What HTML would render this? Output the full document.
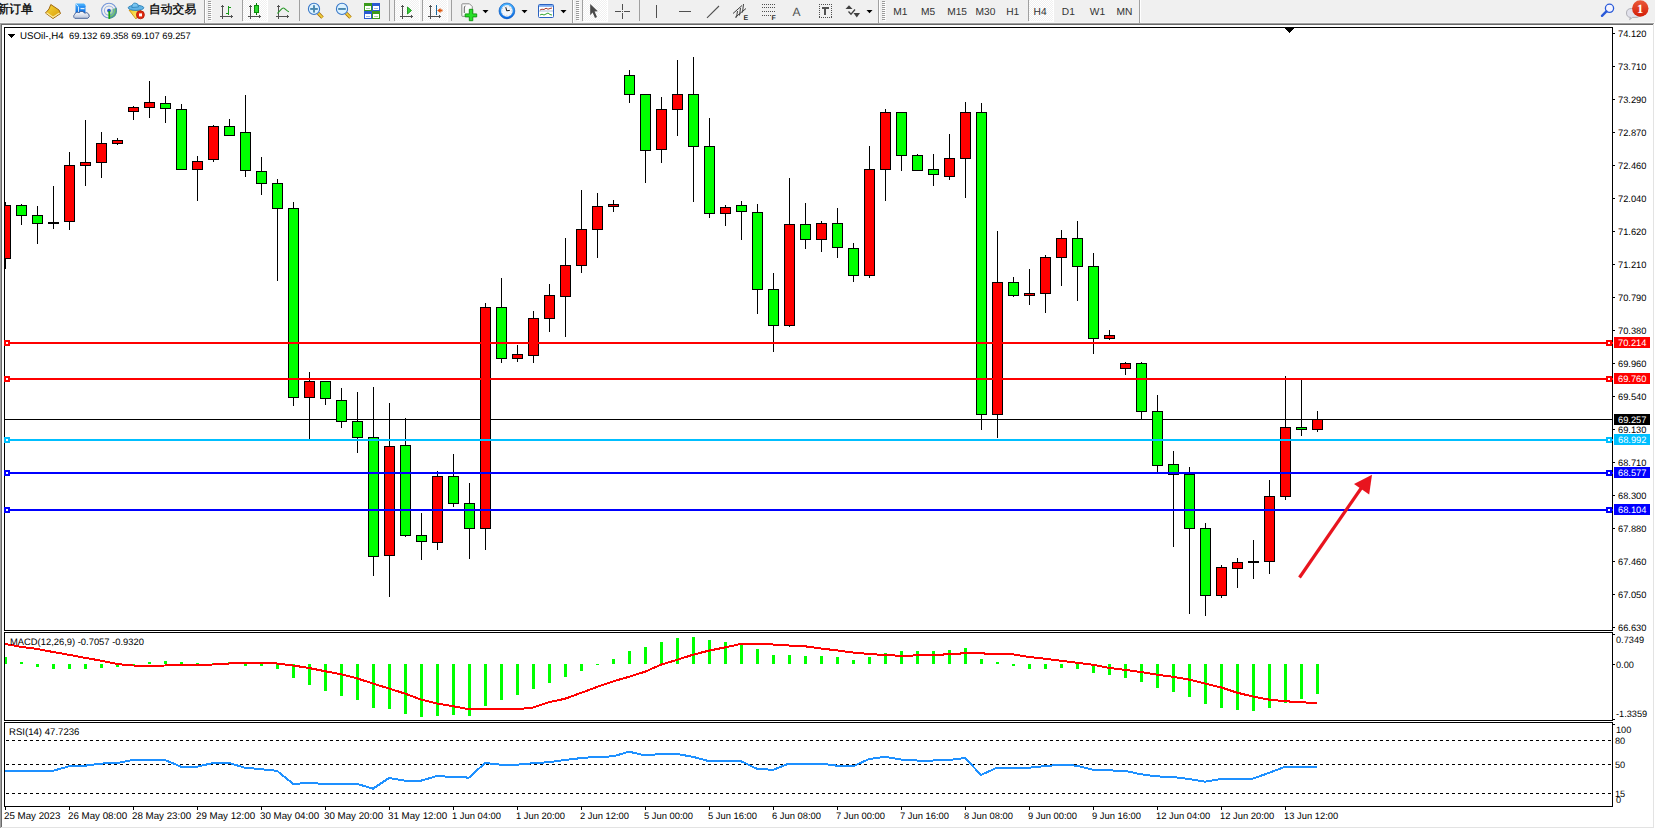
<!DOCTYPE html>
<html><head><meta charset="utf-8"><title>MT4</title>
<style>html,body{margin:0;padding:0;background:#f0f0f0}body{width:1655px;height:829px;overflow:hidden;position:relative}svg{position:absolute;left:0;top:0;font-family:"Liberation Sans",sans-serif}</style>
</head><body>
<svg width="1655" height="829" viewBox="0 0 1655 829" shape-rendering="crispEdges" text-rendering="geometricPrecision">
<rect x="0" y="0" width="1655" height="22" fill="#f0f0f0"/><rect x="0" y="22" width="1655" height="1" fill="#f7f7f7"/><rect x="204" y="0" width="1" height="23" fill="#a0a0a0"/><rect x="205" y="0" width="1" height="22" fill="#ffffff"/><rect x="572" y="0" width="1" height="23" fill="#a0a0a0"/><rect x="573" y="0" width="1" height="22" fill="#ffffff"/><rect x="878" y="0" width="1" height="23" fill="#a0a0a0"/><rect x="879" y="0" width="1" height="22" fill="#ffffff"/><rect x="1139" y="0" width="1" height="23" fill="#a0a0a0"/><rect x="1140" y="0" width="1" height="22" fill="#ffffff"/><rect x="208" y="1" width="3" height="1" fill="#9a9a9a"/><rect x="209" y="2" width="3" height="1" fill="#ffffff"/><rect x="208" y="3" width="3" height="1" fill="#9a9a9a"/><rect x="209" y="4" width="3" height="1" fill="#ffffff"/><rect x="208" y="5" width="3" height="1" fill="#9a9a9a"/><rect x="209" y="6" width="3" height="1" fill="#ffffff"/><rect x="208" y="7" width="3" height="1" fill="#9a9a9a"/><rect x="209" y="8" width="3" height="1" fill="#ffffff"/><rect x="208" y="9" width="3" height="1" fill="#9a9a9a"/><rect x="209" y="10" width="3" height="1" fill="#ffffff"/><rect x="208" y="11" width="3" height="1" fill="#9a9a9a"/><rect x="209" y="12" width="3" height="1" fill="#ffffff"/><rect x="208" y="13" width="3" height="1" fill="#9a9a9a"/><rect x="209" y="14" width="3" height="1" fill="#ffffff"/><rect x="208" y="15" width="3" height="1" fill="#9a9a9a"/><rect x="209" y="16" width="3" height="1" fill="#ffffff"/><rect x="208" y="17" width="3" height="1" fill="#9a9a9a"/><rect x="209" y="18" width="3" height="1" fill="#ffffff"/><rect x="208" y="19" width="3" height="1" fill="#9a9a9a"/><rect x="209" y="20" width="3" height="1" fill="#ffffff"/><rect x="576" y="1" width="3" height="1" fill="#9a9a9a"/><rect x="577" y="2" width="3" height="1" fill="#ffffff"/><rect x="576" y="3" width="3" height="1" fill="#9a9a9a"/><rect x="577" y="4" width="3" height="1" fill="#ffffff"/><rect x="576" y="5" width="3" height="1" fill="#9a9a9a"/><rect x="577" y="6" width="3" height="1" fill="#ffffff"/><rect x="576" y="7" width="3" height="1" fill="#9a9a9a"/><rect x="577" y="8" width="3" height="1" fill="#ffffff"/><rect x="576" y="9" width="3" height="1" fill="#9a9a9a"/><rect x="577" y="10" width="3" height="1" fill="#ffffff"/><rect x="576" y="11" width="3" height="1" fill="#9a9a9a"/><rect x="577" y="12" width="3" height="1" fill="#ffffff"/><rect x="576" y="13" width="3" height="1" fill="#9a9a9a"/><rect x="577" y="14" width="3" height="1" fill="#ffffff"/><rect x="576" y="15" width="3" height="1" fill="#9a9a9a"/><rect x="577" y="16" width="3" height="1" fill="#ffffff"/><rect x="576" y="17" width="3" height="1" fill="#9a9a9a"/><rect x="577" y="18" width="3" height="1" fill="#ffffff"/><rect x="576" y="19" width="3" height="1" fill="#9a9a9a"/><rect x="577" y="20" width="3" height="1" fill="#ffffff"/><rect x="882" y="1" width="3" height="1" fill="#9a9a9a"/><rect x="883" y="2" width="3" height="1" fill="#ffffff"/><rect x="882" y="3" width="3" height="1" fill="#9a9a9a"/><rect x="883" y="4" width="3" height="1" fill="#ffffff"/><rect x="882" y="5" width="3" height="1" fill="#9a9a9a"/><rect x="883" y="6" width="3" height="1" fill="#ffffff"/><rect x="882" y="7" width="3" height="1" fill="#9a9a9a"/><rect x="883" y="8" width="3" height="1" fill="#ffffff"/><rect x="882" y="9" width="3" height="1" fill="#9a9a9a"/><rect x="883" y="10" width="3" height="1" fill="#ffffff"/><rect x="882" y="11" width="3" height="1" fill="#9a9a9a"/><rect x="883" y="12" width="3" height="1" fill="#ffffff"/><rect x="882" y="13" width="3" height="1" fill="#9a9a9a"/><rect x="883" y="14" width="3" height="1" fill="#ffffff"/><rect x="882" y="15" width="3" height="1" fill="#9a9a9a"/><rect x="883" y="16" width="3" height="1" fill="#ffffff"/><rect x="882" y="17" width="3" height="1" fill="#9a9a9a"/><rect x="883" y="18" width="3" height="1" fill="#ffffff"/><rect x="882" y="19" width="3" height="1" fill="#9a9a9a"/><rect x="883" y="20" width="3" height="1" fill="#ffffff"/><defs><pattern id="dith" width="2" height="2" patternUnits="userSpaceOnUse"><rect width="2" height="2" fill="#f0f0f0"/><rect width="1" height="1" fill="#ffffff"/><rect x="1" y="1" width="1" height="1" fill="#ffffff"/></pattern></defs><rect x="243" y="0" width="24" height="21" fill="url(#dith)"/><rect x="267" y="0" width="1" height="22" fill="#ffffff"/><rect x="243" y="21" width="25" height="1" fill="#ffffff"/><rect x="395" y="0" width="24" height="21" fill="url(#dith)"/><rect x="419" y="0" width="1" height="22" fill="#ffffff"/><rect x="395" y="21" width="25" height="1" fill="#ffffff"/><rect x="423" y="0" width="24" height="21" fill="url(#dith)"/><rect x="447" y="0" width="1" height="22" fill="#ffffff"/><rect x="423" y="21" width="25" height="1" fill="#ffffff"/><rect x="583" y="0" width="24" height="21" fill="url(#dith)"/><rect x="607" y="0" width="1" height="22" fill="#ffffff"/><rect x="583" y="21" width="25" height="1" fill="#ffffff"/><rect x="1029" y="0" width="24" height="21" fill="url(#dith)"/><rect x="1053" y="0" width="1" height="22" fill="#ffffff"/><rect x="1029" y="21" width="25" height="1" fill="#ffffff"/><rect x="242" y="0" width="1" height="21" fill="#a0a0a0"/><rect x="299" y="0" width="1" height="21" fill="#a0a0a0"/><rect x="389" y="0" width="1" height="21" fill="#a0a0a0"/><rect x="394" y="0" width="1" height="21" fill="#a0a0a0"/><rect x="422" y="0" width="1" height="21" fill="#a0a0a0"/><rect x="451" y="0" width="1" height="21" fill="#a0a0a0"/><rect x="582" y="0" width="1" height="21" fill="#a0a0a0"/><rect x="639" y="0" width="1" height="21" fill="#a0a0a0"/><rect x="1028" y="0" width="1" height="21" fill="#a0a0a0"/><g shape-rendering="geometricPrecision"><defs>
<linearGradient id="gGold" x1="0" y1="0" x2="1" y2="1"><stop offset="0" stop-color="#f7d93a"/><stop offset="1" stop-color="#d89a08"/></linearGradient>
<linearGradient id="gCloud" x1="0" y1="0" x2="0" y2="1"><stop offset="0" stop-color="#ffffff"/><stop offset="1" stop-color="#b8c4dc"/></linearGradient>
<radialGradient id="gRad" gradientUnits="userSpaceOnUse" cx="0" cy="0" r="8"><stop offset="0" stop-color="#f0f8f0"/><stop offset="1" stop-color="#38a838"/></radialGradient>
<linearGradient id="gYel" x1="0" y1="0" x2="1" y2="1"><stop offset="0" stop-color="#f0c820"/><stop offset="1" stop-color="#fff890"/></linearGradient>
<linearGradient id="gBadge" x1="0" y1="0" x2="0" y2="1"><stop offset="0" stop-color="#ea5a3a"/><stop offset="1" stop-color="#d41e08"/></linearGradient>
<linearGradient id="gBlue" x1="0" y1="0" x2="0" y2="1"><stop offset="0" stop-color="#4ab4ff"/><stop offset="1" stop-color="#0a6ae0"/></linearGradient>
</defs><text x="-3" y="13.2" font-size="12" fill="#000" stroke="#000" stroke-width="0.3">新订单</text><path d="M50.8 4.5 L59 10 L60.5 13.5 L53 18.5 L45.5 13 L49 9 Z" fill="url(#gGold)" stroke="#a0680e" stroke-width="1"/><path d="M46.5 12.8 L53 17.2 L59.5 13" fill="none" stroke="#fae8a0" stroke-width="1.3"/><path d="M75.5 3.5 L84 3.5 L85.5 5 L85.5 13 L75.5 13 Z" fill="url(#gBlue)"/><path d="M75.5 3.8 L78.5 6.5 L78.5 12" fill="none" stroke="#e8f4ff" stroke-width="0.9"/><path d="M78.5 6.5 L85.5 6.5" stroke="#2a8af0" stroke-width="0.8"/><rect x="80.5" y="8" width="4" height="1.2" fill="#e0f0ff"/><path d="M74.8 18.3 A2.4 2.4 0 0 1 74.6 14.4 A3.2 3.2 0 0 1 79.2 12.6 A3.2 3.2 0 0 1 84.6 13.2 A2.9 2.9 0 0 1 87.8 18.3 Z" fill="url(#gCloud)" stroke="#3a5890" stroke-width="0.9"/><g transform="translate(109,10.6)"><path d="M0 0 L0 8 A8 8 0 0 0 7.5 -2.8 Z" fill="url(#gRad)" opacity="0.95"/><circle r="7.4" fill="none" stroke="#4a78d0" stroke-width="1.1" stroke-opacity="0.75"/><circle r="4.6" fill="none" stroke="#5a88d8" stroke-width="1.1" stroke-opacity="0.6"/><circle r="1.9" fill="#2a58d0"/><rect x="-0.6" y="0.3" width="1.7" height="8" fill="#18a018"/></g><path d="M129 10 L141 10 L136 19 Z" fill="url(#gYel)" stroke="#d09010" stroke-width="0.9"/><ellipse cx="136" cy="7.8" rx="7.8" ry="2.6" fill="#62b4e6" stroke="#2a80b8" stroke-width="0.9"/><path d="M131.8 7.5 Q132 3 135 3 Q138.5 3 138.5 7 Z" fill="#78c4f0" stroke="#2a80b8" stroke-width="0.8"/><circle cx="140.4" cy="14.8" r="4" fill="#e02a10" stroke="#b01808" stroke-width="0.8"/><rect x="139" y="13.4" width="3" height="3" fill="#fff"/><text x="149" y="13.2" font-size="11.8" fill="#000" stroke="#000" stroke-width="0.3">自动交易</text><g fill="#505050" shape-rendering="crispEdges"><rect x="222" y="6" width="1" height="13"/><rect x="221" y="6" width="3" height="1"/><rect x="222" y="5" width="1" height="1"/><rect x="220" y="16" width="13" height="1"/><rect x="231" y="15" width="1" height="3"/><rect x="232" y="16" width="1" height="1"/></g><g fill="#1a9a1a" shape-rendering="crispEdges"><rect x="228" y="6" width="1" height="9"/><rect x="229" y="7" width="2" height="1"/><rect x="226" y="13" width="2" height="1"/></g><g fill="#505050" shape-rendering="crispEdges"><rect x="250" y="6" width="1" height="13"/><rect x="249" y="6" width="3" height="1"/><rect x="250" y="5" width="1" height="1"/><rect x="248" y="16" width="13" height="1"/><rect x="259" y="15" width="1" height="3"/><rect x="260" y="16" width="1" height="1"/></g><rect x="256" y="3" width="1" height="12" fill="#0a7a0a" shape-rendering="crispEdges"/><rect x="254.5" y="5.5" width="4" height="7" fill="#30d830" stroke="#0a8a0a" stroke-width="1"/><g fill="#505050" shape-rendering="crispEdges"><rect x="278" y="6" width="1" height="13"/><rect x="277" y="6" width="3" height="1"/><rect x="278" y="5" width="1" height="1"/><rect x="276" y="16" width="13" height="1"/><rect x="287" y="15" width="1" height="3"/><rect x="288" y="16" width="1" height="1"/></g><path d="M277.5 13.5 C280 11 282 7.5 283.5 8 C285 8.3 287 11.5 289 11.8" fill="none" stroke="#2a9a2a" stroke-width="1.1"/><line x1="318.2" y1="13.2" x2="322.5" y2="17.6" stroke="#a87008" stroke-width="3.4"/><line x1="318.2" y1="13.2" x2="322.5" y2="17.6" stroke="#f0d040" stroke-width="1.8"/><circle cx="314" cy="8.9" r="5.6" fill="#dcf2ff" stroke="#3a78c8" stroke-width="1.1"/><rect x="310.2" y="8" width="7.6" height="1.9" fill="#4a88b0"/><rect x="313.05" y="5.2" width="1.9" height="7.4" fill="#4a88b0"/><line x1="346.2" y1="13.2" x2="350.5" y2="17.6" stroke="#a87008" stroke-width="3.4"/><line x1="346.2" y1="13.2" x2="350.5" y2="17.6" stroke="#f0d040" stroke-width="1.8"/><circle cx="342" cy="8.9" r="5.6" fill="#dcf2ff" stroke="#3a78c8" stroke-width="1.1"/><rect x="338.2" y="8" width="7.6" height="1.9" fill="#4a88b0"/><g transform="translate(364,3)" shape-rendering="crispEdges"><rect x="0" y="0" width="8" height="8" fill="#3a9a1a"/><rect x="8" y="0" width="8" height="8" fill="#2a5ad0"/><rect x="0" y="8" width="8" height="8" fill="#2a5ad0"/><rect x="8" y="8" width="8" height="8" fill="#3a9a1a"/><rect x="1" y="3" width="6" height="4" fill="#fff"/><rect x="9" y="3" width="6" height="4" fill="#fff"/><rect x="1" y="11" width="6" height="4" fill="#fff"/><rect x="9" y="11" width="6" height="4" fill="#fff"/><rect x="2" y="5" width="4" height="1" fill="#a8d8a0"/><rect x="10" y="5" width="4" height="1" fill="#a0b8e8"/><rect x="2" y="13" width="4" height="1" fill="#a0b8e8"/><rect x="10" y="13" width="4" height="1" fill="#a8d8a0"/></g><g fill="#505050" shape-rendering="crispEdges"><rect x="402" y="6" width="1" height="13"/><rect x="401" y="6" width="3" height="1"/><rect x="402" y="5" width="1" height="1"/><rect x="400" y="16" width="13" height="1"/><rect x="411" y="15" width="1" height="3"/><rect x="412" y="16" width="1" height="1"/></g><path d="M407.5 7 L411.5 10.5 L407.5 14 Z" fill="#38d038" stroke="#0a8a0a" stroke-width="0.8"/><g fill="#505050" shape-rendering="crispEdges"><rect x="430" y="6" width="1" height="13"/><rect x="429" y="6" width="3" height="1"/><rect x="430" y="5" width="1" height="1"/><rect x="428" y="16" width="13" height="1"/><rect x="439" y="15" width="1" height="3"/><rect x="440" y="16" width="1" height="1"/></g><rect x="436" y="5" width="1" height="10" fill="#1a6aa0" shape-rendering="crispEdges"/><path d="M437.2 10.5 L440.5 8 L440.5 9.6 L442.5 9.6 L442.5 11.4 L440.5 11.4 L440.5 13 Z" fill="#e05a10"/><path d="M461.8 4.5 Q461.8 3.8 462.5 3.8 L469.5 3.8 L472.3 6.6 L472.3 15.8 Q472.3 16.3 471.8 16.3 L462.3 16.3 Q461.8 16.3 461.8 15.8 Z" fill="#fafafa" stroke="#808080" stroke-width="0.9"/><path d="M465.5 6 Q464.3 6 464.3 8 L464.3 13" fill="none" stroke="#444" stroke-width="0.8"/><path d="M469.3 9.3 L472.8 9.3 L472.8 13.9 L476.7 13.9 L476.7 16.9 L472.8 16.9 L472.8 20.7 L469.3 20.7 L469.3 16.9 L465.2 16.9 L465.2 13.9 L469.3 13.9 Z" fill="#28e028" stroke="#0e8e0e" stroke-width="0.9"/><path d="M482.5 10 L488.5 10 L485.5 13.2 Z" fill="#000"/><path d="M521.5 10 L527.5 10 L524.5 13.2 Z" fill="#000"/><path d="M560.5 10 L566.5 10 L563.5 13.2 Z" fill="#000"/><path d="M866.5 10 L872.5 10 L869.5 13.2 Z" fill="#000"/><circle cx="506.9" cy="10.9" r="6.9" fill="#f2f6fc" stroke="url(#gBlue)" stroke-width="2.2"/><circle cx="506.9" cy="10.9" r="7.9" fill="none" stroke="#0a52b8" stroke-width="0.6"/><path d="M505.8 7.2 L506.7 10.8 L509.8 10.4" fill="none" stroke="#111" stroke-width="1"/><g fill="#999"><circle cx="511.70" cy="10.90" r="0.4"/><circle cx="511.06" cy="13.30" r="0.4"/><circle cx="509.30" cy="15.06" r="0.4"/><circle cx="506.90" cy="15.70" r="0.4"/><circle cx="504.50" cy="15.06" r="0.4"/><circle cx="502.74" cy="13.30" r="0.4"/><circle cx="502.10" cy="10.90" r="0.4"/><circle cx="502.74" cy="8.50" r="0.4"/><circle cx="504.50" cy="6.74" r="0.4"/><circle cx="506.90" cy="6.10" r="0.4"/><circle cx="509.30" cy="6.74" r="0.4"/><circle cx="511.06" cy="8.50" r="0.4"/></g><g transform="translate(538,4)"><rect x="0.5" y="0.5" width="15" height="13" rx="1" fill="#fff" stroke="#2a62c0"/><rect x="1" y="1" width="14" height="1.8" fill="#7aaaf0"/><line x1="1" y1="7" x2="15" y2="7" stroke="#9ab0d0" stroke-width="0.8"/><path d="M2 6 L4 5.2 L6 5.5 L8 4.2 L10 5.2 L12 4.5 L14 4" stroke="#a02818" fill="none" stroke-width="0.9"/><path d="M2 11 L4 10.2 L6 11 L8 10 L10 9 L12 10.5 L14 11" stroke="#1a9a1a" fill="none" stroke-width="0.9"/></g><path d="M590.2 4 L597.8 11.2 L594.6 11.6 L597 17 L595 18 L592.6 12.6 L590.2 15.2 Z" fill="#4a4a4a"/><g fill="#505050" shape-rendering="crispEdges"><rect x="615" y="11" width="6" height="1"/><rect x="624" y="11" width="6" height="1"/><rect x="622" y="4" width="1" height="6" /><rect x="622" y="13" width="1" height="6"/><rect x="622" y="11" width="1" height="1"/></g><g fill="#505050" shape-rendering="crispEdges"><rect x="656" y="5" width="1" height="13"/><rect x="679" y="11" width="12" height="1"/></g><line x1="707" y1="17.8" x2="719" y2="6" stroke="#505050" stroke-width="1.1"/><g stroke="#404040" stroke-width="1" fill="none"><line x1="733" y1="13.5" x2="742" y2="5.5"/><line x1="735" y1="17.5" x2="746" y2="8.5"/><line x1="736.5" y1="17.5" x2="737.5" y2="11"/><line x1="739.5" y1="15.5" x2="740.5" y2="8"/><line x1="742.5" y1="12.5" x2="743.5" y2="4"/></g><text x="743.6" y="20.4" font-size="7" font-weight="bold" fill="#303030">E</text><g fill="#505050" shape-rendering="crispEdges"><rect x="762" y="4" width="1" height="1"/><rect x="764" y="4" width="1" height="1"/><rect x="766" y="4" width="1" height="1"/><rect x="768" y="4" width="1" height="1"/><rect x="770" y="4" width="1" height="1"/><rect x="772" y="4" width="1" height="1"/><rect x="774" y="4" width="1" height="1"/><rect x="762" y="7" width="1" height="1"/><rect x="764" y="7" width="1" height="1"/><rect x="766" y="7" width="1" height="1"/><rect x="768" y="7" width="1" height="1"/><rect x="770" y="7" width="1" height="1"/><rect x="772" y="7" width="1" height="1"/><rect x="774" y="7" width="1" height="1"/><rect x="762" y="11" width="1" height="1"/><rect x="764" y="11" width="1" height="1"/><rect x="766" y="11" width="1" height="1"/><rect x="768" y="11" width="1" height="1"/><rect x="770" y="11" width="1" height="1"/><rect x="772" y="11" width="1" height="1"/><rect x="774" y="11" width="1" height="1"/><rect x="762" y="15" width="1" height="1"/><rect x="764" y="15" width="1" height="1"/><rect x="766" y="15" width="1" height="1"/><rect x="768" y="15" width="1" height="1"/><rect x="770" y="15" width="1" height="1"/></g><text x="771.5" y="20.4" font-size="7" font-weight="bold" fill="#303030">F</text><text x="792.6" y="16" font-size="12" fill="#505050">A</text><g fill="#505050" shape-rendering="crispEdges"><rect x="819" y="4" width="1" height="1"/><rect x="819" y="17" width="1" height="1"/><rect x="821" y="4" width="1" height="1"/><rect x="821" y="17" width="1" height="1"/><rect x="823" y="4" width="1" height="1"/><rect x="823" y="17" width="1" height="1"/><rect x="825" y="4" width="1" height="1"/><rect x="825" y="17" width="1" height="1"/><rect x="827" y="4" width="1" height="1"/><rect x="827" y="17" width="1" height="1"/><rect x="829" y="4" width="1" height="1"/><rect x="829" y="17" width="1" height="1"/><rect x="831" y="4" width="1" height="1"/><rect x="831" y="17" width="1" height="1"/><rect x="819" y="4" width="1" height="1"/><rect x="831" y="4" width="1" height="1"/><rect x="819" y="6" width="1" height="1"/><rect x="831" y="6" width="1" height="1"/><rect x="819" y="8" width="1" height="1"/><rect x="831" y="8" width="1" height="1"/><rect x="819" y="10" width="1" height="1"/><rect x="831" y="10" width="1" height="1"/><rect x="819" y="12" width="1" height="1"/><rect x="831" y="12" width="1" height="1"/><rect x="819" y="14" width="1" height="1"/><rect x="831" y="14" width="1" height="1"/><rect x="819" y="16" width="1" height="1"/><rect x="831" y="16" width="1" height="1"/><rect x="822" y="7" width="7" height="2"/><rect x="824" y="7" width="2" height="8"/></g><g fill="#404040"><path d="M845.5 9 L849 5.2 L852.5 9 Z"/><path d="M853.5 13 L860 13 L856.8 17.5 Z"/><path d="M848.5 11.5 L851 14.2 L855 9.5" stroke="#404040" fill="none" stroke-width="1.3"/></g><text x="893.3" y="15" font-size="10.2" fill="#333">M1</text><text x="921" y="15" font-size="10.2" fill="#333">M5</text><text x="947.2" y="15" font-size="10.2" fill="#333">M15</text><text x="975.5" y="15" font-size="10.2" fill="#333">M30</text><text x="1006.2" y="15" font-size="10.2" fill="#333">H1</text><text x="1033.6" y="15" font-size="10.2" fill="#333">H4</text><text x="1061.8" y="15" font-size="10.2" fill="#333">D1</text><text x="1089.8" y="15" font-size="10.2" fill="#333">W1</text><text x="1116.4" y="15" font-size="10.2" fill="#333">MN</text><circle cx="1609.5" cy="8.3" r="4.1" fill="#f4f4ff" stroke="#2a5ad8" stroke-width="1.3"/><line x1="1606.4" y1="11.4" x2="1602" y2="15.8" stroke="#2a5ad8" stroke-width="2.4" stroke-linecap="round"/><path d="M1631.5 8.5 Q1626.5 8.5 1626.5 13 Q1626.5 17.2 1630.5 17.4 L1629.6 19.6 L1632.6 17.4 L1637 17.4 Q1641 17 1641 13 Q1641 8.5 1636 8.5 Z" fill="#e2e2ec" stroke="#a8a8b0" stroke-width="0.9"/><circle cx="1640.3" cy="8.5" r="8.2" fill="url(#gBadge)"/><text x="1640" y="13" font-size="12.5" font-weight="bold" fill="#fff" text-anchor="middle" font-family="Liberation Serif">1</text></g><rect x="0" y="23" width="1654" height="1" fill="#a0a0a0"/><rect x="0" y="23" width="1" height="805" fill="#a0a0a0"/><rect x="1" y="24" width="1652" height="1" fill="#696969"/><rect x="1" y="24" width="1" height="803" fill="#696969"/><rect x="1653" y="24" width="1" height="804" fill="#e3e3e3"/><rect x="1" y="827" width="1653" height="1" fill="#e3e3e3"/><rect x="1654" y="23" width="1" height="806" fill="#ffffff"/><rect x="0" y="828" width="1655" height="1" fill="#ffffff"/><rect x="2" y="25" width="1651" height="802" fill="#ffffff"/><rect x="4" y="27" width="1609" height="1" fill="#000"/><rect x="4" y="630" width="1609" height="1" fill="#000"/><rect x="4" y="27" width="1" height="604" fill="#000"/><rect x="1612" y="27" width="1" height="604" fill="#000"/><rect x="4" y="632" width="1609" height="1" fill="#000"/><rect x="4" y="720" width="1609" height="1" fill="#000"/><rect x="4" y="632" width="1" height="89" fill="#000"/><rect x="1612" y="632" width="1" height="89" fill="#000"/><rect x="4" y="722" width="1609" height="1" fill="#000"/><rect x="4" y="806" width="1609" height="1" fill="#000"/><rect x="4" y="722" width="1" height="85" fill="#000"/><rect x="1612" y="722" width="1" height="85" fill="#000"/><defs><clipPath id="cm"><rect x="5" y="28" width="1607" height="602"/></clipPath><clipPath id="cmacd"><rect x="5" y="633" width="1607" height="87"/></clipPath><clipPath id="crsi"><rect x="5" y="723" width="1607" height="83"/></clipPath></defs><g clip-path="url(#cm)"></g><rect x="5" y="419" width="1607" height="1" fill="#000"/><g clip-path="url(#cm)"><rect x="5" y="202" width="1" height="67" fill="#000"/><rect x="0" y="205" width="11" height="54" fill="#000"/><rect x="1" y="206" width="9" height="52" fill="#ff0000"/><rect x="21" y="204" width="1" height="21" fill="#000"/><rect x="16" y="205" width="11" height="11" fill="#000"/><rect x="17" y="206" width="9" height="9" fill="#00ff00"/><rect x="37" y="206" width="1" height="38" fill="#000"/><rect x="32" y="215" width="11" height="9" fill="#000"/><rect x="33" y="216" width="9" height="7" fill="#00ff00"/><rect x="53" y="186" width="1" height="43" fill="#000"/><rect x="48" y="222" width="11" height="2" fill="#000"/><rect x="69" y="152" width="1" height="78" fill="#000"/><rect x="64" y="165" width="11" height="57" fill="#000"/><rect x="65" y="166" width="9" height="55" fill="#ff0000"/><rect x="85" y="120" width="1" height="66" fill="#000"/><rect x="80" y="162" width="11" height="4" fill="#000"/><rect x="81" y="163" width="9" height="2" fill="#ff0000"/><rect x="101" y="132" width="1" height="46" fill="#000"/><rect x="96" y="143" width="11" height="20" fill="#000"/><rect x="97" y="144" width="9" height="18" fill="#ff0000"/><rect x="117" y="138" width="1" height="7" fill="#000"/><rect x="112" y="140" width="11" height="4" fill="#000"/><rect x="113" y="141" width="9" height="2" fill="#ff0000"/><rect x="133" y="106" width="1" height="14" fill="#000"/><rect x="128" y="107" width="11" height="5" fill="#000"/><rect x="129" y="108" width="9" height="3" fill="#ff0000"/><rect x="149" y="81" width="1" height="37" fill="#000"/><rect x="144" y="102" width="11" height="6" fill="#000"/><rect x="145" y="103" width="9" height="4" fill="#ff0000"/><rect x="165" y="96" width="1" height="27" fill="#000"/><rect x="160" y="103" width="11" height="6" fill="#000"/><rect x="161" y="104" width="9" height="4" fill="#00ff00"/><rect x="181" y="104" width="1" height="66" fill="#000"/><rect x="176" y="109" width="11" height="61" fill="#000"/><rect x="177" y="110" width="9" height="59" fill="#00ff00"/><rect x="197" y="156" width="1" height="45" fill="#000"/><rect x="192" y="161" width="11" height="9" fill="#000"/><rect x="193" y="162" width="9" height="7" fill="#ff0000"/><rect x="213" y="125" width="1" height="37" fill="#000"/><rect x="208" y="126" width="11" height="34" fill="#000"/><rect x="209" y="127" width="9" height="32" fill="#ff0000"/><rect x="229" y="119" width="1" height="17" fill="#000"/><rect x="224" y="126" width="11" height="10" fill="#000"/><rect x="225" y="127" width="9" height="8" fill="#00ff00"/><rect x="245" y="95" width="1" height="82" fill="#000"/><rect x="240" y="132" width="11" height="39" fill="#000"/><rect x="241" y="133" width="9" height="37" fill="#00ff00"/><rect x="261" y="157" width="1" height="38" fill="#000"/><rect x="256" y="171" width="11" height="13" fill="#000"/><rect x="257" y="172" width="9" height="11" fill="#00ff00"/><rect x="277" y="179" width="1" height="102" fill="#000"/><rect x="272" y="183" width="11" height="26" fill="#000"/><rect x="273" y="184" width="9" height="24" fill="#00ff00"/><rect x="293" y="202" width="1" height="204" fill="#000"/><rect x="288" y="208" width="11" height="190" fill="#000"/><rect x="289" y="209" width="9" height="188" fill="#00ff00"/><rect x="309" y="372" width="1" height="67" fill="#000"/><rect x="304" y="381" width="11" height="17" fill="#000"/><rect x="305" y="382" width="9" height="15" fill="#ff0000"/><rect x="325" y="381" width="1" height="24" fill="#000"/><rect x="320" y="381" width="11" height="18" fill="#000"/><rect x="321" y="382" width="9" height="16" fill="#00ff00"/><rect x="341" y="388" width="1" height="40" fill="#000"/><rect x="336" y="400" width="11" height="22" fill="#000"/><rect x="337" y="401" width="9" height="20" fill="#00ff00"/><rect x="357" y="392" width="1" height="61" fill="#000"/><rect x="352" y="421" width="11" height="17" fill="#000"/><rect x="353" y="422" width="9" height="15" fill="#00ff00"/><rect x="373" y="387" width="1" height="189" fill="#000"/><rect x="368" y="437" width="11" height="120" fill="#000"/><rect x="369" y="438" width="9" height="118" fill="#00ff00"/><rect x="389" y="403" width="1" height="194" fill="#000"/><rect x="384" y="446" width="11" height="110" fill="#000"/><rect x="385" y="447" width="9" height="108" fill="#ff0000"/><rect x="405" y="418" width="1" height="119" fill="#000"/><rect x="400" y="445" width="11" height="91" fill="#000"/><rect x="401" y="446" width="9" height="89" fill="#00ff00"/><rect x="421" y="513" width="1" height="47" fill="#000"/><rect x="416" y="535" width="11" height="7" fill="#000"/><rect x="417" y="536" width="9" height="5" fill="#00ff00"/><rect x="437" y="471" width="1" height="79" fill="#000"/><rect x="432" y="476" width="11" height="67" fill="#000"/><rect x="433" y="477" width="9" height="65" fill="#ff0000"/><rect x="453" y="454" width="1" height="53" fill="#000"/><rect x="448" y="476" width="11" height="28" fill="#000"/><rect x="449" y="477" width="9" height="26" fill="#00ff00"/><rect x="469" y="483" width="1" height="76" fill="#000"/><rect x="464" y="503" width="11" height="26" fill="#000"/><rect x="465" y="504" width="9" height="24" fill="#00ff00"/><rect x="485" y="303" width="1" height="247" fill="#000"/><rect x="480" y="307" width="11" height="222" fill="#000"/><rect x="481" y="308" width="9" height="220" fill="#ff0000"/><rect x="501" y="278" width="1" height="85" fill="#000"/><rect x="496" y="307" width="11" height="52" fill="#000"/><rect x="497" y="308" width="9" height="50" fill="#00ff00"/><rect x="517" y="345" width="1" height="17" fill="#000"/><rect x="512" y="354" width="11" height="5" fill="#000"/><rect x="513" y="355" width="9" height="3" fill="#ff0000"/><rect x="533" y="311" width="1" height="52" fill="#000"/><rect x="528" y="318" width="11" height="38" fill="#000"/><rect x="529" y="319" width="9" height="36" fill="#ff0000"/><rect x="549" y="284" width="1" height="48" fill="#000"/><rect x="544" y="295" width="11" height="24" fill="#000"/><rect x="545" y="296" width="9" height="22" fill="#ff0000"/><rect x="565" y="238" width="1" height="99" fill="#000"/><rect x="560" y="265" width="11" height="32" fill="#000"/><rect x="561" y="266" width="9" height="30" fill="#ff0000"/><rect x="581" y="190" width="1" height="83" fill="#000"/><rect x="576" y="229" width="11" height="37" fill="#000"/><rect x="577" y="230" width="9" height="35" fill="#ff0000"/><rect x="597" y="193" width="1" height="65" fill="#000"/><rect x="592" y="206" width="11" height="24" fill="#000"/><rect x="593" y="207" width="9" height="22" fill="#ff0000"/><rect x="613" y="200" width="1" height="12" fill="#000"/><rect x="608" y="204" width="11" height="3" fill="#000"/><rect x="609" y="205" width="9" height="1" fill="#ff0000"/><rect x="629" y="70" width="1" height="33" fill="#000"/><rect x="624" y="75" width="11" height="20" fill="#000"/><rect x="625" y="76" width="9" height="18" fill="#00ff00"/><rect x="645" y="94" width="1" height="89" fill="#000"/><rect x="640" y="94" width="11" height="57" fill="#000"/><rect x="641" y="95" width="9" height="55" fill="#00ff00"/><rect x="661" y="97" width="1" height="66" fill="#000"/><rect x="656" y="109" width="11" height="41" fill="#000"/><rect x="657" y="110" width="9" height="39" fill="#ff0000"/><rect x="677" y="60" width="1" height="76" fill="#000"/><rect x="672" y="94" width="11" height="16" fill="#000"/><rect x="673" y="95" width="9" height="14" fill="#ff0000"/><rect x="693" y="57" width="1" height="145" fill="#000"/><rect x="688" y="94" width="11" height="53" fill="#000"/><rect x="689" y="95" width="9" height="51" fill="#00ff00"/><rect x="709" y="118" width="1" height="100" fill="#000"/><rect x="704" y="146" width="11" height="68" fill="#000"/><rect x="705" y="147" width="9" height="66" fill="#00ff00"/><rect x="725" y="205" width="1" height="21" fill="#000"/><rect x="720" y="207" width="11" height="7" fill="#000"/><rect x="721" y="208" width="9" height="5" fill="#ff0000"/><rect x="741" y="201" width="1" height="39" fill="#000"/><rect x="736" y="205" width="11" height="7" fill="#000"/><rect x="737" y="206" width="9" height="5" fill="#00ff00"/><rect x="757" y="204" width="1" height="110" fill="#000"/><rect x="752" y="212" width="11" height="78" fill="#000"/><rect x="753" y="213" width="9" height="76" fill="#00ff00"/><rect x="773" y="273" width="1" height="79" fill="#000"/><rect x="768" y="289" width="11" height="37" fill="#000"/><rect x="769" y="290" width="9" height="35" fill="#00ff00"/><rect x="789" y="178" width="1" height="149" fill="#000"/><rect x="784" y="224" width="11" height="102" fill="#000"/><rect x="785" y="225" width="9" height="100" fill="#ff0000"/><rect x="805" y="203" width="1" height="46" fill="#000"/><rect x="800" y="224" width="11" height="16" fill="#000"/><rect x="801" y="225" width="9" height="14" fill="#00ff00"/><rect x="821" y="221" width="1" height="31" fill="#000"/><rect x="816" y="223" width="11" height="17" fill="#000"/><rect x="817" y="224" width="9" height="15" fill="#ff0000"/><rect x="837" y="208" width="1" height="50" fill="#000"/><rect x="832" y="223" width="11" height="25" fill="#000"/><rect x="833" y="224" width="9" height="23" fill="#00ff00"/><rect x="853" y="243" width="1" height="39" fill="#000"/><rect x="848" y="248" width="11" height="28" fill="#000"/><rect x="849" y="249" width="9" height="26" fill="#00ff00"/><rect x="869" y="146" width="1" height="132" fill="#000"/><rect x="864" y="169" width="11" height="107" fill="#000"/><rect x="865" y="170" width="9" height="105" fill="#ff0000"/><rect x="885" y="109" width="1" height="92" fill="#000"/><rect x="880" y="112" width="11" height="58" fill="#000"/><rect x="881" y="113" width="9" height="56" fill="#ff0000"/><rect x="901" y="112" width="1" height="59" fill="#000"/><rect x="896" y="112" width="11" height="44" fill="#000"/><rect x="897" y="113" width="9" height="42" fill="#00ff00"/><rect x="917" y="154" width="1" height="17" fill="#000"/><rect x="912" y="155" width="11" height="16" fill="#000"/><rect x="913" y="156" width="9" height="14" fill="#00ff00"/><rect x="933" y="154" width="1" height="32" fill="#000"/><rect x="928" y="169" width="11" height="6" fill="#000"/><rect x="929" y="170" width="9" height="4" fill="#00ff00"/><rect x="949" y="134" width="1" height="46" fill="#000"/><rect x="944" y="158" width="11" height="19" fill="#000"/><rect x="945" y="159" width="9" height="17" fill="#ff0000"/><rect x="965" y="102" width="1" height="96" fill="#000"/><rect x="960" y="112" width="11" height="47" fill="#000"/><rect x="961" y="113" width="9" height="45" fill="#ff0000"/><rect x="981" y="103" width="1" height="327" fill="#000"/><rect x="976" y="112" width="11" height="303" fill="#000"/><rect x="977" y="113" width="9" height="301" fill="#00ff00"/><rect x="997" y="231" width="1" height="207" fill="#000"/><rect x="992" y="282" width="11" height="133" fill="#000"/><rect x="993" y="283" width="9" height="131" fill="#ff0000"/><rect x="1013" y="277" width="1" height="20" fill="#000"/><rect x="1008" y="282" width="11" height="14" fill="#000"/><rect x="1009" y="283" width="9" height="12" fill="#00ff00"/><rect x="1029" y="269" width="1" height="36" fill="#000"/><rect x="1024" y="293" width="11" height="3" fill="#000"/><rect x="1025" y="294" width="9" height="1" fill="#ff0000"/><rect x="1045" y="255" width="1" height="58" fill="#000"/><rect x="1040" y="257" width="11" height="37" fill="#000"/><rect x="1041" y="258" width="9" height="35" fill="#ff0000"/><rect x="1061" y="230" width="1" height="56" fill="#000"/><rect x="1056" y="238" width="11" height="20" fill="#000"/><rect x="1057" y="239" width="9" height="18" fill="#ff0000"/><rect x="1077" y="221" width="1" height="80" fill="#000"/><rect x="1072" y="238" width="11" height="29" fill="#000"/><rect x="1073" y="239" width="9" height="27" fill="#00ff00"/><rect x="1093" y="253" width="1" height="101" fill="#000"/><rect x="1088" y="266" width="11" height="73" fill="#000"/><rect x="1089" y="267" width="9" height="71" fill="#00ff00"/><rect x="1109" y="330" width="1" height="10" fill="#000"/><rect x="1104" y="335" width="11" height="4" fill="#000"/><rect x="1105" y="336" width="9" height="2" fill="#ff0000"/><rect x="1125" y="362" width="1" height="13" fill="#000"/><rect x="1120" y="363" width="11" height="6" fill="#000"/><rect x="1121" y="364" width="9" height="4" fill="#ff0000"/><rect x="1141" y="362" width="1" height="57" fill="#000"/><rect x="1136" y="363" width="11" height="49" fill="#000"/><rect x="1137" y="364" width="9" height="47" fill="#00ff00"/><rect x="1157" y="395" width="1" height="77" fill="#000"/><rect x="1152" y="411" width="11" height="55" fill="#000"/><rect x="1153" y="412" width="9" height="53" fill="#00ff00"/><rect x="1173" y="451" width="1" height="96" fill="#000"/><rect x="1168" y="464" width="11" height="11" fill="#000"/><rect x="1169" y="465" width="9" height="9" fill="#00ff00"/><rect x="1189" y="467" width="1" height="147" fill="#000"/><rect x="1184" y="474" width="11" height="55" fill="#000"/><rect x="1185" y="475" width="9" height="53" fill="#00ff00"/><rect x="1205" y="523" width="1" height="93" fill="#000"/><rect x="1200" y="528" width="11" height="68" fill="#000"/><rect x="1201" y="529" width="9" height="66" fill="#00ff00"/><rect x="1221" y="565" width="1" height="33" fill="#000"/><rect x="1216" y="567" width="11" height="29" fill="#000"/><rect x="1217" y="568" width="9" height="27" fill="#ff0000"/><rect x="1237" y="558" width="1" height="30" fill="#000"/><rect x="1232" y="562" width="11" height="7" fill="#000"/><rect x="1233" y="563" width="9" height="5" fill="#ff0000"/><rect x="1253" y="540" width="1" height="39" fill="#000"/><rect x="1248" y="561" width="11" height="2" fill="#000"/><rect x="1269" y="480" width="1" height="94" fill="#000"/><rect x="1264" y="496" width="11" height="66" fill="#000"/><rect x="1265" y="497" width="9" height="64" fill="#ff0000"/><rect x="1285" y="376" width="1" height="124" fill="#000"/><rect x="1280" y="427" width="11" height="70" fill="#000"/><rect x="1281" y="428" width="9" height="68" fill="#ff0000"/><rect x="1301" y="379" width="1" height="57" fill="#000"/><rect x="1296" y="427" width="11" height="3" fill="#000"/><rect x="1297" y="428" width="9" height="1" fill="#00ff00"/><rect x="1317" y="411" width="1" height="21" fill="#000"/><rect x="1312" y="419" width="11" height="11" fill="#000"/><rect x="1313" y="420" width="9" height="9" fill="#ff0000"/></g><rect x="5" y="342" width="1608" height="2" fill="#ff0000"/><rect x="4" y="340" width="6" height="6" fill="#ff0000"/><rect x="6" y="342" width="2" height="2" fill="#fff"/><rect x="1606" y="340" width="6" height="6" fill="#ff0000"/><rect x="1608" y="342" width="2" height="2" fill="#fff"/><rect x="5" y="378" width="1608" height="2" fill="#ff0000"/><rect x="4" y="376" width="6" height="6" fill="#ff0000"/><rect x="6" y="378" width="2" height="2" fill="#fff"/><rect x="1606" y="376" width="6" height="6" fill="#ff0000"/><rect x="1608" y="378" width="2" height="2" fill="#fff"/><rect x="5" y="439" width="1608" height="2" fill="#00bfff"/><rect x="4" y="437" width="6" height="6" fill="#00bfff"/><rect x="6" y="439" width="2" height="2" fill="#fff"/><rect x="1606" y="437" width="6" height="6" fill="#00bfff"/><rect x="1608" y="439" width="2" height="2" fill="#fff"/><rect x="5" y="472" width="1608" height="2" fill="#0000ff"/><rect x="4" y="470" width="6" height="6" fill="#0000ff"/><rect x="6" y="472" width="2" height="2" fill="#fff"/><rect x="1606" y="470" width="6" height="6" fill="#0000ff"/><rect x="1608" y="472" width="2" height="2" fill="#fff"/><rect x="5" y="509" width="1608" height="2" fill="#0000ff"/><rect x="4" y="507" width="6" height="6" fill="#0000ff"/><rect x="6" y="509" width="2" height="2" fill="#fff"/><rect x="1606" y="507" width="6" height="6" fill="#0000ff"/><rect x="1608" y="509" width="2" height="2" fill="#fff"/><rect x="1285" y="28" width="9" height="1" fill="#000"/><rect x="1286" y="29" width="7" height="1" fill="#000"/><rect x="1287" y="30" width="5" height="1" fill="#000"/><rect x="1288" y="31" width="3" height="1" fill="#000"/><rect x="1289" y="32" width="1" height="1" fill="#000"/><rect x="8" y="34" width="7" height="1" fill="#000"/><rect x="9" y="35" width="5" height="1" fill="#000"/><rect x="10" y="36" width="3" height="1" fill="#000"/><rect x="11" y="37" width="1" height="1" fill="#000"/><text x="20" y="39" font-size="9.7" fill="#000">USOil-,H4</text><text x="69" y="39" font-size="9.32" fill="#000">69.132 69.358 69.107 69.257</text><g shape-rendering="geometricPrecision"><line x1="1299.5" y1="577.5" x2="1362" y2="487" stroke="#e8141e" stroke-width="3.2"/><path d="M1372 474.8 L1354 484 L1369.2 494.5 Z" fill="#e8141e"/></g><rect x="1613" y="33" width="2" height="1" fill="#000"/><text x="1618" y="37" font-size="9.3" fill="#000">74.120</text><rect x="1613" y="66" width="2" height="1" fill="#000"/><text x="1618" y="70" font-size="9.3" fill="#000">73.710</text><rect x="1613" y="99" width="2" height="1" fill="#000"/><text x="1618" y="103" font-size="9.3" fill="#000">73.290</text><rect x="1613" y="132" width="2" height="1" fill="#000"/><text x="1618" y="136" font-size="9.3" fill="#000">72.870</text><rect x="1613" y="165" width="2" height="1" fill="#000"/><text x="1618" y="169" font-size="9.3" fill="#000">72.460</text><rect x="1613" y="198" width="2" height="1" fill="#000"/><text x="1618" y="202" font-size="9.3" fill="#000">72.040</text><rect x="1613" y="231" width="2" height="1" fill="#000"/><text x="1618" y="235" font-size="9.3" fill="#000">71.620</text><rect x="1613" y="264" width="2" height="1" fill="#000"/><text x="1618" y="268" font-size="9.3" fill="#000">71.210</text><rect x="1613" y="297" width="2" height="1" fill="#000"/><text x="1618" y="301" font-size="9.3" fill="#000">70.790</text><rect x="1613" y="330" width="2" height="1" fill="#000"/><text x="1618" y="334" font-size="9.3" fill="#000">70.380</text><rect x="1613" y="363" width="2" height="1" fill="#000"/><text x="1618" y="367" font-size="9.3" fill="#000">69.960</text><rect x="1613" y="396" width="2" height="1" fill="#000"/><text x="1618" y="400" font-size="9.3" fill="#000">69.540</text><rect x="1613" y="429" width="2" height="1" fill="#000"/><text x="1618" y="433" font-size="9.3" fill="#000">69.130</text><rect x="1613" y="462" width="2" height="1" fill="#000"/><text x="1618" y="466" font-size="9.3" fill="#000">68.710</text><rect x="1613" y="495" width="2" height="1" fill="#000"/><text x="1618" y="499" font-size="9.3" fill="#000">68.300</text><rect x="1613" y="528" width="2" height="1" fill="#000"/><text x="1618" y="532" font-size="9.3" fill="#000">67.880</text><rect x="1613" y="561" width="2" height="1" fill="#000"/><text x="1618" y="565" font-size="9.3" fill="#000">67.460</text><rect x="1613" y="594" width="2" height="1" fill="#000"/><text x="1618" y="598" font-size="9.3" fill="#000">67.050</text><rect x="1613" y="627" width="2" height="1" fill="#000"/><text x="1618" y="631" font-size="9.3" fill="#000">66.630</text><rect x="1614" y="337" width="36" height="11" fill="#ff0000"/><text x="1618" y="346" font-size="9.3" fill="#fff">70.214</text><rect x="1614" y="373" width="36" height="11" fill="#ff0000"/><text x="1618" y="382" font-size="9.3" fill="#fff">69.760</text><rect x="1614" y="414" width="36" height="11" fill="#000000"/><text x="1618" y="423" font-size="9.3" fill="#fff">69.257</text><rect x="1614" y="434" width="36" height="11" fill="#00bfff"/><text x="1618" y="443" font-size="9.3" fill="#fff">68.992</text><rect x="1614" y="467" width="36" height="11" fill="#0000ff"/><text x="1618" y="476" font-size="9.3" fill="#fff">68.577</text><rect x="1614" y="504" width="36" height="11" fill="#0000ff"/><text x="1618" y="513" font-size="9.3" fill="#fff">68.104</text><g clip-path="url(#cmacd)"><rect x="4" y="657" width="3" height="7" fill="#00ff00"/><rect x="20" y="662" width="3" height="2" fill="#00ff00"/><rect x="36" y="664" width="3" height="3" fill="#00ff00"/><rect x="52" y="664" width="3" height="5" fill="#00ff00"/><rect x="68" y="664" width="3" height="5" fill="#00ff00"/><rect x="84" y="664" width="3" height="5" fill="#00ff00"/><rect x="100" y="664" width="3" height="4" fill="#00ff00"/><rect x="116" y="664" width="3" height="3" fill="#00ff00"/><rect x="132" y="664" width="3" height="1" fill="#00ff00"/><rect x="148" y="662" width="3" height="2" fill="#00ff00"/><rect x="164" y="661" width="3" height="3" fill="#00ff00"/><rect x="180" y="662" width="3" height="2" fill="#00ff00"/><rect x="196" y="663" width="3" height="1" fill="#00ff00"/><rect x="212" y="663" width="3" height="1" fill="#00ff00"/><rect x="228" y="662" width="3" height="2" fill="#00ff00"/><rect x="244" y="664" width="3" height="2" fill="#00ff00"/><rect x="260" y="664" width="3" height="2" fill="#00ff00"/><rect x="276" y="664" width="3" height="5" fill="#00ff00"/><rect x="292" y="664" width="3" height="14" fill="#00ff00"/><rect x="308" y="664" width="3" height="21" fill="#00ff00"/><rect x="324" y="664" width="3" height="27" fill="#00ff00"/><rect x="340" y="664" width="3" height="32" fill="#00ff00"/><rect x="356" y="664" width="3" height="36" fill="#00ff00"/><rect x="372" y="664" width="3" height="44" fill="#00ff00"/><rect x="388" y="664" width="3" height="45" fill="#00ff00"/><rect x="404" y="664" width="3" height="50" fill="#00ff00"/><rect x="420" y="664" width="3" height="53" fill="#00ff00"/><rect x="436" y="664" width="3" height="52" fill="#00ff00"/><rect x="452" y="664" width="3" height="51" fill="#00ff00"/><rect x="468" y="664" width="3" height="52" fill="#00ff00"/><rect x="484" y="664" width="3" height="42" fill="#00ff00"/><rect x="500" y="664" width="3" height="36" fill="#00ff00"/><rect x="516" y="664" width="3" height="31" fill="#00ff00"/><rect x="532" y="664" width="3" height="25" fill="#00ff00"/><rect x="548" y="664" width="3" height="19" fill="#00ff00"/><rect x="564" y="664" width="3" height="13" fill="#00ff00"/><rect x="580" y="664" width="3" height="7" fill="#00ff00"/><rect x="596" y="664" width="3" height="1" fill="#00ff00"/><rect x="612" y="659" width="3" height="5" fill="#00ff00"/><rect x="628" y="651" width="3" height="13" fill="#00ff00"/><rect x="644" y="647" width="3" height="17" fill="#00ff00"/><rect x="660" y="642" width="3" height="22" fill="#00ff00"/><rect x="676" y="638" width="3" height="26" fill="#00ff00"/><rect x="692" y="637" width="3" height="27" fill="#00ff00"/><rect x="708" y="640" width="3" height="24" fill="#00ff00"/><rect x="724" y="642" width="3" height="22" fill="#00ff00"/><rect x="740" y="644" width="3" height="20" fill="#00ff00"/><rect x="756" y="649" width="3" height="15" fill="#00ff00"/><rect x="772" y="655" width="3" height="9" fill="#00ff00"/><rect x="788" y="655" width="3" height="9" fill="#00ff00"/><rect x="804" y="656" width="3" height="8" fill="#00ff00"/><rect x="820" y="656" width="3" height="8" fill="#00ff00"/><rect x="836" y="657" width="3" height="7" fill="#00ff00"/><rect x="852" y="660" width="3" height="4" fill="#00ff00"/><rect x="868" y="657" width="3" height="7" fill="#00ff00"/><rect x="884" y="653" width="3" height="11" fill="#00ff00"/><rect x="900" y="651" width="3" height="13" fill="#00ff00"/><rect x="916" y="651" width="3" height="13" fill="#00ff00"/><rect x="932" y="651" width="3" height="13" fill="#00ff00"/><rect x="948" y="650" width="3" height="14" fill="#00ff00"/><rect x="964" y="648" width="3" height="16" fill="#00ff00"/><rect x="980" y="659" width="3" height="5" fill="#00ff00"/><rect x="996" y="662" width="3" height="2" fill="#00ff00"/><rect x="1012" y="664" width="3" height="2" fill="#00ff00"/><rect x="1028" y="664" width="3" height="5" fill="#00ff00"/><rect x="1044" y="664" width="3" height="5" fill="#00ff00"/><rect x="1060" y="664" width="3" height="4" fill="#00ff00"/><rect x="1076" y="664" width="3" height="5" fill="#00ff00"/><rect x="1092" y="664" width="3" height="9" fill="#00ff00"/><rect x="1108" y="664" width="3" height="11" fill="#00ff00"/><rect x="1124" y="664" width="3" height="14" fill="#00ff00"/><rect x="1140" y="664" width="3" height="18" fill="#00ff00"/><rect x="1156" y="664" width="3" height="24" fill="#00ff00"/><rect x="1172" y="664" width="3" height="28" fill="#00ff00"/><rect x="1188" y="664" width="3" height="33" fill="#00ff00"/><rect x="1204" y="664" width="3" height="40" fill="#00ff00"/><rect x="1220" y="664" width="3" height="44" fill="#00ff00"/><rect x="1236" y="664" width="3" height="46" fill="#00ff00"/><rect x="1252" y="664" width="3" height="47" fill="#00ff00"/><rect x="1268" y="664" width="3" height="44" fill="#00ff00"/><rect x="1284" y="664" width="3" height="39" fill="#00ff00"/><rect x="1300" y="664" width="3" height="35" fill="#00ff00"/><rect x="1316" y="664" width="3" height="30" fill="#00ff00"/><polyline points="5,644 21,646.8 37,648.9 53,652 69,654.8 85,657.8 101,660.7 117,664 133,665.5 149,665.9 165,665.5 181,664.9 197,664.9 213,664.5 229,663.5 245,663 261,663 277,663.5 293,665.5 309,668 325,671.2 341,674.3 357,678.3 373,683.6 389,688.5 405,693.6 421,699.5 437,703.5 453,706.2 469,709.3 485,709.3 501,709.3 517,709.3 533,707.5 549,702.2 565,698.75 581,692.9 597,686.9 613,681.4 629,676.8 645,671.7 661,664.7 677,659.9 693,654.7 709,650.6 725,647.4 741,643.9 757,644 773,644.5 789,645.5 805,646.3 821,648.5 837,650.4 853,652.5 869,654 885,655 901,655.8 917,655.4 933,654.9 949,654.3 965,653.2 981,653.4 997,653.9 1013,654.4 1029,657 1045,658.7 1061,660.7 1077,662.8 1093,664.8 1109,667.8 1125,669.9 1141,672 1157,674.7 1173,676.8 1189,679.6 1205,683.5 1221,687.4 1237,692.7 1253,696.5 1269,699.6 1285,701.2 1301,702.3 1317,703" fill="none" stroke="#ff0000" stroke-width="2" stroke-linejoin="round"/></g><text x="10" y="645" font-size="9.4" fill="#000">MACD(12,26,9) -0.7057 -0.9320</text><rect x="1613" y="634" width="2" height="1" fill="#000"/><rect x="1613" y="664" width="2" height="1" fill="#000"/><rect x="1613" y="719" width="2" height="1" fill="#000"/><text x="1616" y="643" font-size="9.2" fill="#000">0.7349</text><text x="1616" y="668" font-size="9.2" fill="#000">0.00</text><text x="1616" y="717" font-size="9.2" fill="#000">-1.3359</text><g clip-path="url(#crsi)"><line x1="6" y1="740.5" x2="1612" y2="740.5" stroke="#000" stroke-width="1" stroke-dasharray="3 3"/><line x1="6" y1="764.5" x2="1612" y2="764.5" stroke="#000" stroke-width="1" stroke-dasharray="3 3"/><line x1="6" y1="793.5" x2="1612" y2="793.5" stroke="#000" stroke-width="1" stroke-dasharray="3 3"/><polyline points="5,770.8 21,770.8 37,770.8 53,770.8 69,766.3 85,765.7 101,763.6 117,763 133,760 149,760 165,760 181,766.7 197,766.7 213,763 229,763 245,767.7 261,769.2 277,770.8 293,783.8 309,783.1 325,783.8 341,783.8 357,783.8 373,788.7 389,778 405,780.7 421,780.7 437,776 453,777 469,777.6 485,763 501,764.7 517,764.7 533,763.2 549,762.2 565,760 581,758.1 597,756.8 613,756.4 629,751.7 645,755.4 661,754 677,754 693,756.8 709,761.2 725,761.2 741,761.2 757,768.8 773,769.8 789,763.6 805,763.6 821,763.6 837,765.7 853,766.3 869,759.1 885,756.8 901,759.5 917,760.5 933,760.5 949,760.1 965,757.9 981,774.9 997,767.7 1013,767.7 1029,767.7 1045,766.1 1061,764.7 1077,765.7 1093,769.8 1109,770.4 1125,770.8 1141,774.3 1157,776.4 1173,777 1189,779 1205,781.7 1221,779 1237,778.6 1253,778.6 1269,772.9 1285,766.7 1301,766.7 1317,766.7" fill="none" stroke="#1e90ff" stroke-width="2" stroke-linejoin="round"/></g><text x="9" y="735" font-size="9.6" fill="#000">RSI(14) 47.7236</text><rect x="1613" y="724" width="2" height="1" fill="#000"/><text x="1616" y="733" font-size="9.2" fill="#000">100</text><text x="1615" y="744" font-size="9.2" fill="#000">80</text><text x="1615" y="768" font-size="9.2" fill="#000">50</text><text x="1615" y="797" font-size="9.2" fill="#000">15</text><text x="1616" y="803" font-size="9.2" fill="#000">0</text><rect x="5" y="807" width="1" height="3" fill="#000"/><text x="4" y="819" font-size="9.75" fill="#000">25 May 2023</text><rect x="69" y="807" width="1" height="3" fill="#000"/><text x="68" y="819" font-size="9.75" fill="#000">26 May 08:00</text><rect x="133" y="807" width="1" height="3" fill="#000"/><text x="132" y="819" font-size="9.75" fill="#000">28 May 23:00</text><rect x="197" y="807" width="1" height="3" fill="#000"/><text x="196" y="819" font-size="9.75" fill="#000">29 May 12:00</text><rect x="261" y="807" width="1" height="3" fill="#000"/><text x="260" y="819" font-size="9.75" fill="#000">30 May 04:00</text><rect x="325" y="807" width="1" height="3" fill="#000"/><text x="324" y="819" font-size="9.75" fill="#000">30 May 20:00</text><rect x="389" y="807" width="1" height="3" fill="#000"/><text x="388" y="819" font-size="9.75" fill="#000">31 May 12:00</text><rect x="453" y="807" width="1" height="3" fill="#000"/><text x="452" y="819" font-size="9.4" fill="#000">1 Jun 04:00</text><rect x="517" y="807" width="1" height="3" fill="#000"/><text x="516" y="819" font-size="9.4" fill="#000">1 Jun 20:00</text><rect x="581" y="807" width="1" height="3" fill="#000"/><text x="580" y="819" font-size="9.4" fill="#000">2 Jun 12:00</text><rect x="645" y="807" width="1" height="3" fill="#000"/><text x="644" y="819" font-size="9.4" fill="#000">5 Jun 00:00</text><rect x="709" y="807" width="1" height="3" fill="#000"/><text x="708" y="819" font-size="9.4" fill="#000">5 Jun 16:00</text><rect x="773" y="807" width="1" height="3" fill="#000"/><text x="772" y="819" font-size="9.4" fill="#000">6 Jun 08:00</text><rect x="837" y="807" width="1" height="3" fill="#000"/><text x="836" y="819" font-size="9.4" fill="#000">7 Jun 00:00</text><rect x="901" y="807" width="1" height="3" fill="#000"/><text x="900" y="819" font-size="9.4" fill="#000">7 Jun 16:00</text><rect x="965" y="807" width="1" height="3" fill="#000"/><text x="964" y="819" font-size="9.4" fill="#000">8 Jun 08:00</text><rect x="1029" y="807" width="1" height="3" fill="#000"/><text x="1028" y="819" font-size="9.4" fill="#000">9 Jun 00:00</text><rect x="1093" y="807" width="1" height="3" fill="#000"/><text x="1092" y="819" font-size="9.4" fill="#000">9 Jun 16:00</text><rect x="1157" y="807" width="1" height="3" fill="#000"/><text x="1156" y="819" font-size="9.4" fill="#000">12 Jun 04:00</text><rect x="1221" y="807" width="1" height="3" fill="#000"/><text x="1220" y="819" font-size="9.4" fill="#000">12 Jun 20:00</text><rect x="1285" y="807" width="1" height="3" fill="#000"/><text x="1284" y="819" font-size="9.4" fill="#000">13 Jun 12:00</text>
</svg>
</body></html>
